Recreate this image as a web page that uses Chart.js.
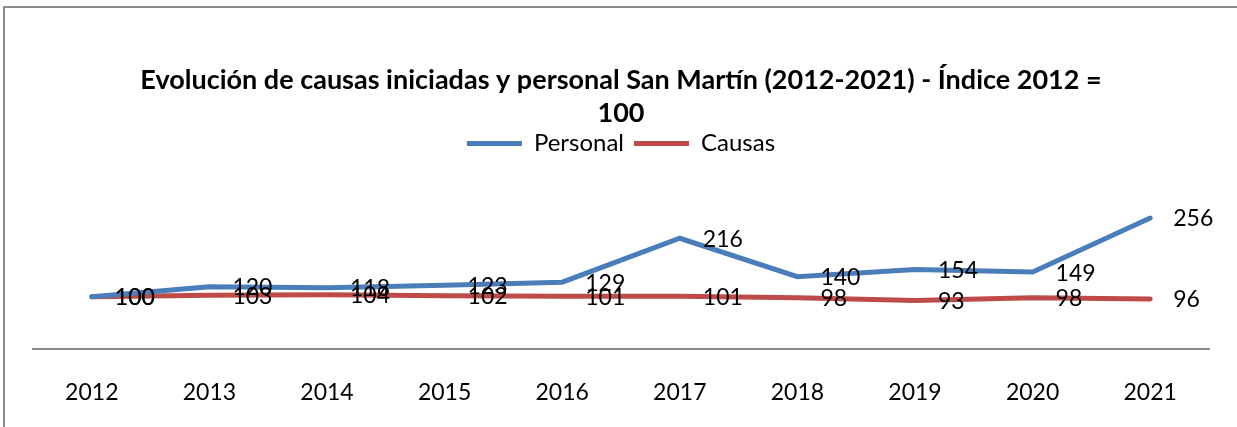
<!DOCTYPE html>
<html>
<head>
<meta charset="utf-8">
<script src="https://cdn.jsdelivr.net/npm/chart.js@4"></script>
<style>
  html, body { margin: 0; padding: 0; background: #fff; }
  #wrap { width: 1237px; height: 427px; }
</style>
</head>
<body>
<div id="wrap"><canvas id="chart" width="1237" height="427"></canvas></div>
<script>
// Data
const years = ['2012', '2013', '2014', '2015', '2016', '2017', '2018', '2019', '2020', '2021'];
const personal = [100, 120, 118, 123, 129, 216, 140, 154, 149, 256];
const causas = [100, 103, 104, 102, 101, 101, 98, 93, 98, 96];
const titleLines = ['Evolución de causas iniciadas y personal San Martín (2012-2021) - Índice 2012 =', '100'];

const FONT = 'Lato, "Open Sans", sans-serif';

// Grey frame on the left and top, like the sheet chart border
const framePlugin = {
    id: 'frame',
    beforeDraw(chart) {
        const ctx = chart.ctx;
        ctx.save();
        ctx.fillStyle = '#ffffff';
        ctx.fillRect(0, 0, chart.width, chart.height);
        ctx.strokeStyle = '#8c8c8c';
        ctx.lineWidth = 2;
        ctx.beginPath();
        ctx.moveTo(4, chart.height);
        ctx.lineTo(4, 7);
        ctx.lineTo(chart.width, 7);
        ctx.stroke();
        ctx.restore();
    }
};

// Value labels to the right of each point
const valueLabels = {
    id: 'valueLabels',
    afterDatasetsDraw(chart) {
        const ctx = chart.ctx;
        ctx.save();
        ctx.font = '23px ' + FONT;
        ctx.fillStyle = '#000';
        ctx.textAlign = 'left';
        ctx.textBaseline = 'middle';
        chart.data.datasets.forEach((ds, i) => {
            const meta = chart.getDatasetMeta(i);
            meta.data.forEach((pt, j) => {
                ctx.fillText(String(ds.data[j]), pt.x + 23, pt.y + 1);
            });
        });
        ctx.restore();
    }
};

const ctx = document.getElementById('chart').getContext('2d');
new Chart(ctx, {
    type: 'line',
    data: {
        labels: years,
        datasets: [{
            label: 'Personal',
            data: personal,
            borderColor: '#4a7ebb',
            backgroundColor: '#4a7ebb',
            borderWidth: 5,
            borderCapStyle: 'round',
            pointRadius: 0,
            tension: 0
        }, {
            label: 'Causas',
            data: causas,
            borderColor: '#be4b48',
            backgroundColor: '#be4b48',
            borderWidth: 5,
            borderCapStyle: 'round',
            pointRadius: 0,
            tension: 0
        }]
    },
    options: {
        responsive: false,
        animation: false,
        layout: {
            padding: { left: 33, right: 28, top: 10, bottom: 0 }
        },
        plugins: {
            title: {
                display: true,
                text: titleLines,
                color: '#000',
                font: { family: FONT, size: 27, weight: 'bold', lineHeight: 1.25 },
                padding: { top: 53, bottom: -9 }
            },
            legend: {
                display: true,
                labels: {
                    usePointStyle: true,
                    pointStyle: 'line',
                    pointStyleWidth: 55,
                    color: '#000',
                    font: { family: FONT, size: 24 },
                    padding: 10
                }
            },
            tooltip: { enabled: false }
        },
        scales: {
            x: {
                offset: true,
                grid: { display: false, offset: true },
                border: { display: true, color: '#8c8c8c', width: 2 },
                ticks: {
                    color: '#000',
                    font: { family: FONT, size: 23 },
                    padding: 21,
                    maxRotation: 0
                }
            },
            y: {
                display: false,
                min: -4,
                max: 360
            }
        }
    },
    plugins: [framePlugin, valueLabels]
});
</script>
</body>
</html>
